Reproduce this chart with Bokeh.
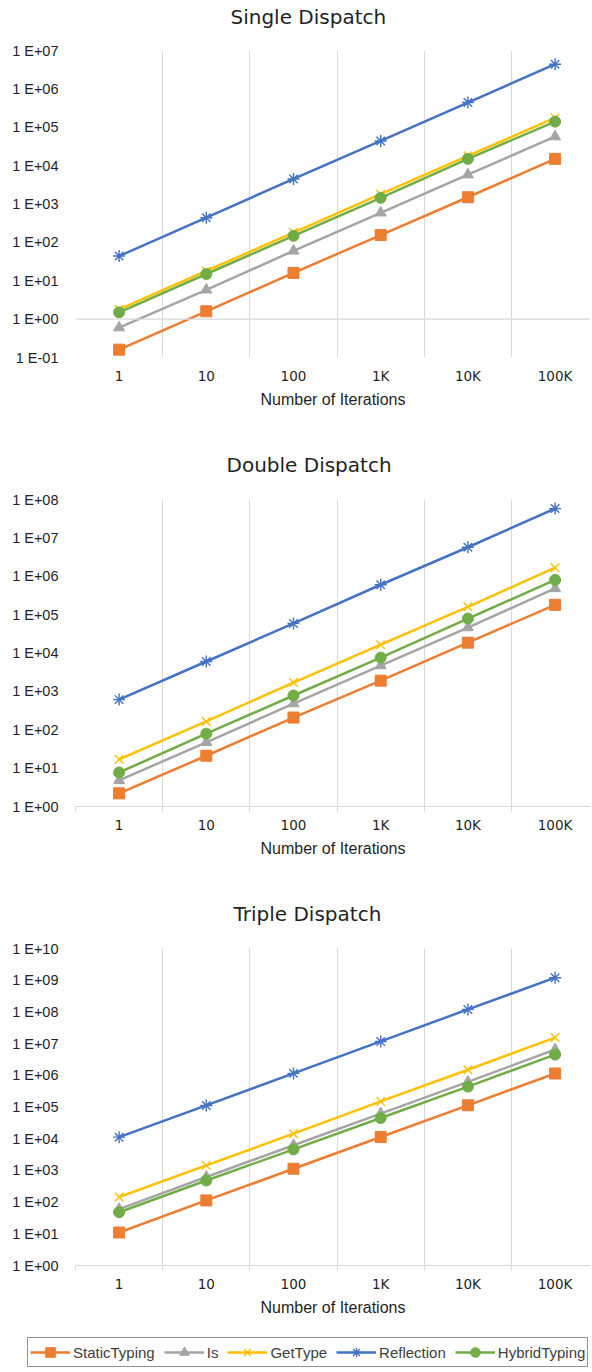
from bokeh.plotting import figure
from bokeh.layouts import column, row
from bokeh.models import (Range1d, FixedTicker, CustomJSTickFormatter, Span, Title,
                          Legend, LegendItem, ColumnDataSource)
from bokeh.embed import file_html
from bokeh.resources import INLINE

# ---------------- data ----------------
ITERATIONS = ["1", "10", "100", "1K", "10K", "100K"]
SERIES = ["StaticTyping", "Is", "GetType", "Reflection", "HybridTyping"]
COLORS = ["#ED7D31", "#A5A5A5", "#FFC000", "#4472C4", "#70AD47"]
MARKERS = ["square", "triangle", "x", "asterisk", "circle"]

TITLES = ["Single Dispatch", "Double Dispatch", "Triple Dispatch"]
X_TITLE = "Number of Iterations"

single_static = [0.16, 1.6, 16, 155, 1500, 15000]
single_is = [0.6, 5.8, 60, 590, 5800, 57000]
single_gettype = [1.8, 18, 180, 1800, 18000, 175000]
single_reflection = [44, 440, 4500, 44000, 440000, 4400000]
single_hybrid = [1.5, 15, 148, 1450, 15000, 140000]

double_static = [2.2, 21, 208, 1900, 18600, 180000]
double_is = [4.8, 47, 480, 4700, 46000, 480000]
double_gettype = [17, 165, 1700, 16500, 160000, 1670000]
double_reflection = [610, 6000, 59000, 600000, 5700000, 58000000]
double_hybrid = [7.7, 79, 780, 7600, 79000, 800000]

triple_static = [11, 113, 1130, 11300, 113000, 1140000]
triple_is = [60, 620, 6200, 62000, 620000, 6500000]
triple_gettype = [145, 1440, 14400, 150000, 1500000, 15500000]
triple_reflection = [11200, 112000, 1150000, 11700000, 120000000, 1200000000]
triple_hybrid = [48, 480, 4600, 45000, 440000, 4500000]

SINGLE_YLABELS = ["1 E-01", "1 E+00", "1 E+01", "1 E+02", "1 E+03", "1 E+04",
                  "1 E+05", "1 E+06", "1 E+07"]
DOUBLE_YLABELS = ["1 E+00", "1 E+01", "1 E+02", "1 E+03", "1 E+04", "1 E+05",
                  "1 E+06", "1 E+07", "1 E+08"]
TRIPLE_YLABELS = ["1 E+00", "1 E+01", "1 E+02", "1 E+03", "1 E+04", "1 E+05",
                  "1 E+06", "1 E+07", "1 E+08", "1 E+09", "1 E+10"]
SINGLE_YEXP = (-1, 7)
DOUBLE_YEXP = (0, 8)
TRIPLE_YEXP = (0, 10)

CHARTS = [
    dict(title=TITLES[0], data=[single_static, single_is, single_gettype, single_reflection, single_hybrid],
         ylabels=SINGLE_YLABELS, yexp=SINGLE_YEXP),
    dict(title=TITLES[1], data=[double_static, double_is, double_gettype, double_reflection, double_hybrid],
         ylabels=DOUBLE_YLABELS, yexp=DOUBLE_YEXP),
    dict(title=TITLES[2], data=[triple_static, triple_is, triple_gettype, triple_reflection, triple_hybrid],
         ylabels=TRIPLE_YLABELS, yexp=TRIPLE_YEXP),
]

# ---------------- layout / styles ----------------
GRID = "#D9D9D9"
TEXT = "#1f1f1f"
WIDTH = 590
LEFT = 75
HEIGHTS = [440, 450, 446]
TOPS = [50, 59, 58]
BOTTOMS = [83, 84, 71]
SPACER = [19, 20, 20]
TITLE_OFFSETS = [155, 151, 158]
XEND = 6.406

xpos = list(range(1, len(ITERATIONS) + 1))
between = [i - 0.5 for i in xpos]


def add_series(p, data):
    out = []
    for si, name in enumerate(SERIES):
        src = ColumnDataSource(dict(x=xpos, y=data[si]))
        lr = p.line("x", "y", source=src, line_color=COLORS[si], line_width=2.5)
        m = MARKERS[si]
        if m in ("x", "asterisk"):
            sr = p.scatter("x", "y", source=src, marker=m, size=12, line_color=COLORS[si],
                           line_width=1.4, fill_color=None)
        else:
            sr = p.scatter("x", "y", source=src, marker=m, size=11, line_color=COLORS[si],
                           fill_color=COLORS[si])
        out.append((name, lr, sr))
    return out


figs = []
for ci, ch in enumerate(CHARTS):
    lo, hi = ch["yexp"]
    p = figure(width=WIDTH, height=HEIGHTS[ci], output_backend="svg", toolbar_location=None,
               y_axis_type="log", x_range=Range1d(0.5, XEND), y_range=Range1d(10.0 ** lo, 10.0 ** hi),
               min_border_left=LEFT, min_border_right=0, min_border_top=TOPS[ci],
               min_border_bottom=BOTTOMS[ci], title=None)
    p.outline_line_color = None
    p.background_fill_color = "white"
    p.border_fill_color = "white"

    # spacer between frame and title, then the title itself
    p.add_layout(Title(text=" ", text_font_size="1px", standoff=SPACER[ci]), "above")
    p.add_layout(Title(text=ch["title"], align="left", offset=TITLE_OFFSETS[ci],
                       text_font="DejaVu Sans", text_font_size="20px", text_font_style="normal",
                       text_color=TEXT, standoff=0), "above")

    # y axis
    p.yaxis.ticker = FixedTicker(ticks=[10.0 ** e for e in range(lo, hi + 1)])
    p.yaxis.formatter = CustomJSTickFormatter(
        args=dict(labels=ch["ylabels"], lo=lo),
        code="const e = Math.round(Math.log10(tick)); const i = e - lo; "
             "return (i >= 0 && i < labels.length) ? labels[i] : '';")
    p.yaxis.axis_line_color = None
    p.yaxis.major_tick_line_color = None
    p.yaxis.minor_tick_line_color = None
    p.yaxis.major_tick_out = 0
    p.yaxis.major_tick_in = 0
    p.yaxis.major_label_standoff = 17
    p.yaxis.major_label_text_font = "Liberation Sans"
    p.yaxis.major_label_text_font_size = "14.5px"
    p.yaxis.major_label_text_color = TEXT
    p.ygrid.grid_line_color = None

    # x axis
    p.xaxis.ticker = FixedTicker(ticks=xpos, minor_ticks=between)
    p.xaxis.major_label_overrides = dict(zip(xpos, ITERATIONS))
    p.xaxis.major_tick_line_color = None
    p.xaxis.major_tick_out = 0
    p.xaxis.major_tick_in = 0
    p.xaxis.minor_tick_in = 0
    p.xaxis.minor_tick_out = 5
    p.xaxis.minor_tick_line_color = GRID
    p.xaxis.axis_line_color = GRID
    p.xaxis.major_label_standoff = 5
    p.xaxis.major_label_text_font = "DejaVu Sans"
    p.xaxis.major_label_text_font_size = "13.5px"
    p.xaxis.major_label_text_color = TEXT
    p.xaxis.axis_label = X_TITLE
    p.xaxis.axis_label_standoff = 4
    p.xaxis.axis_label_text_font = "Liberation Sans"
    p.xaxis.axis_label_text_font_style = "normal"
    p.xaxis.axis_label_text_font_size = "16px"
    p.xaxis.axis_label_text_color = TEXT
    p.xgrid.ticker = FixedTicker(ticks=between)
    p.xgrid.grid_line_color = GRID
    p.xgrid.grid_line_width = 1

    if lo < 0:
        # horizontal axis crosses at 1
        p.xaxis.axis_line_color = None
        p.xaxis.minor_tick_line_color = None
        p.add_layout(Span(location=1, dimension="width", line_color=GRID, line_width=1.3))

    add_series(p, ch["data"])
    figs.append(p)

# ---------------- legend strip ----------------
# the series are drawn off-view here; only their legend entries are visible
pl = figure(width=WIDTH, height=34, output_backend="svg", toolbar_location=None,
            x_range=Range1d(100, 101), y_range=Range1d(-2, -1),
            x_axis_location=None, y_axis_location=None,
            min_border_left=0, min_border_right=0, min_border_top=0, min_border_bottom=0)
pl.outline_line_color = None
pl.xgrid.grid_line_color = None
pl.ygrid.grid_line_color = None
lrs = add_series(pl, CHARTS[2]["data"])
items = [LegendItem(label=n, renderers=[lr, sr]) for (n, lr, sr) in lrs]
legend = Legend(items=items, orientation="horizontal", location=(27, 3),
                glyph_width=40, glyph_height=24, label_standoff=3, spacing=9,
                padding=2, margin=0, label_width=0, label_height=24,
                label_text_font="Liberation Sans", label_text_font_size="15px",
                label_text_color="#404040", label_text_baseline="middle",
                border_line_color="#262626", border_line_width=1.2,
                background_fill_color="white", background_fill_alpha=1.0)
pl.add_layout(legend, "center")

layout = column(column(*figs, spacing=0), row(pl), spacing=0)
open("out.html", "w").write(file_html(layout, INLINE))
